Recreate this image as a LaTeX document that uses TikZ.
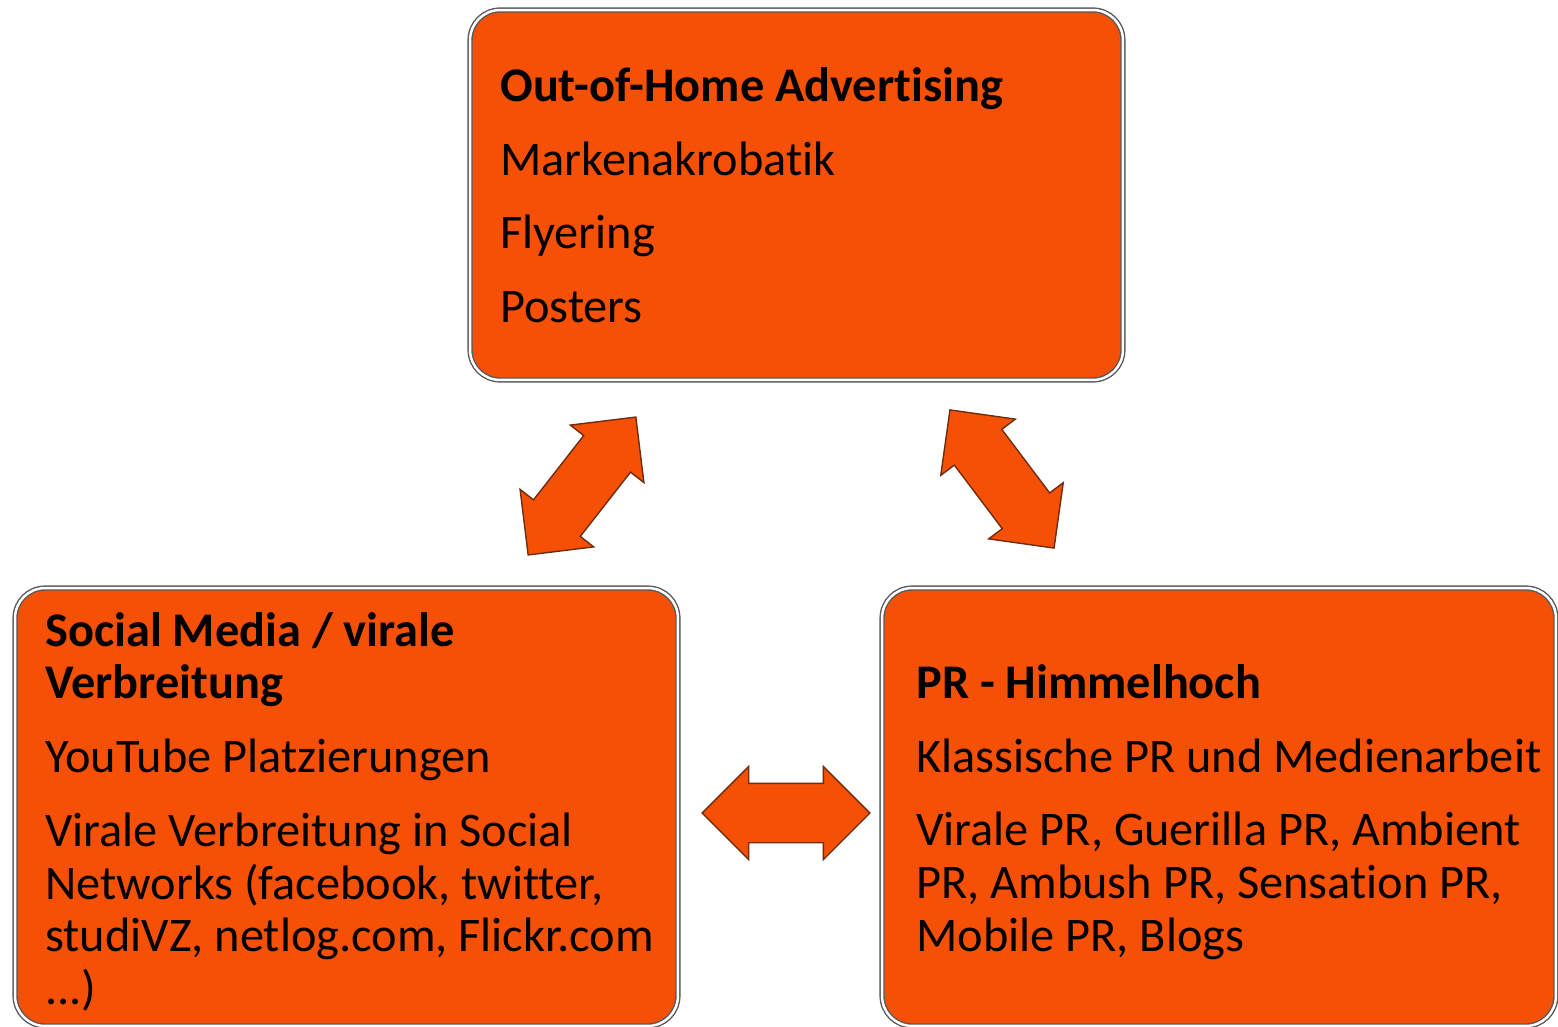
\documentclass[tikz,border=0pt]{standalone}
\usepackage{fontspec}
\setmainfont{Carlito}[Ligatures=NoCommon]
\usetikzlibrary{shapes.arrows}
\definecolor{boxorange}{RGB}{245,80,5}
\definecolor{arrowedge}{RGB}{110,45,15}
\tikzset{
  box/.style={draw=gray!70!black, double=white, double distance=1.4pt, line width=.8pt,
    fill=boxorange, rounded corners=.6cm, inner sep=0},
  boxtext/.style={anchor=north west, align=left, inner sep=0, font=\fontsize{27.5}{30}\selectfont},
  dblarrow/.style={double arrow, fill=boxorange, draw=arrowedge, line width=.8pt,
    double arrow tip angle=90, double arrow head extend=.34cm, minimum width=1.84cm,
    inner xsep=0, inner ysep=.58cm}
}
\begin{document}
\begin{tikzpicture}[x=.02cm, y=-.02cm]
\useasboundingbox (0,0) rectangle (1558,1027);
% the three boxes
\node[box, minimum width=13.06cm, minimum height=7.4cm] (ooh) at (796.5,195) {};
\node[box, minimum width=13.26cm, minimum height=8.76cm] (social) at (346.5,807) {};
\node[box, minimum width=13.48cm, minimum height=8.76cm] (pr) at (1219,807) {};
% texts
\node[boxtext] (oohtext) at (500,67) {{\bfseries Out-of-Home Advertising}\\[12pt]
  Markenakrobatik\\[12pt] Flyering\\[12pt] Posters};
\node[boxtext] (socialtext) at (45,612) {{\bfseries Social Media / virale}\\
  {\bfseries Verbreitung}\\[12pt] YouTube Platzierungen\\[12pt]
  Virale Verbreitung in Social\\ Networks (facebook, twitter,\\
  studiVZ, netlog.com, Flickr.com\\ ...)};
\node[boxtext] (prtext) at (916,664) {{\bfseries PR - Himmelhoch}\\[12pt]
  Klassische PR und Medienarbeit\\[12pt] Virale PR, Guerilla PR, Ambient\\
  PR, Ambush PR, Sensation PR,\\ Mobile PR, Blogs};
% arrows
\node[dblarrow, minimum height=3.5cm, rotate=52] (arrleft) at (582,486) {};
\node[dblarrow, minimum height=3.46cm, rotate=-53] (arrright) at (1002,479) {};
\node[dblarrow, minimum height=3.36cm] (arrmid) at (786,813) {};
\end{tikzpicture}
\end{document}
